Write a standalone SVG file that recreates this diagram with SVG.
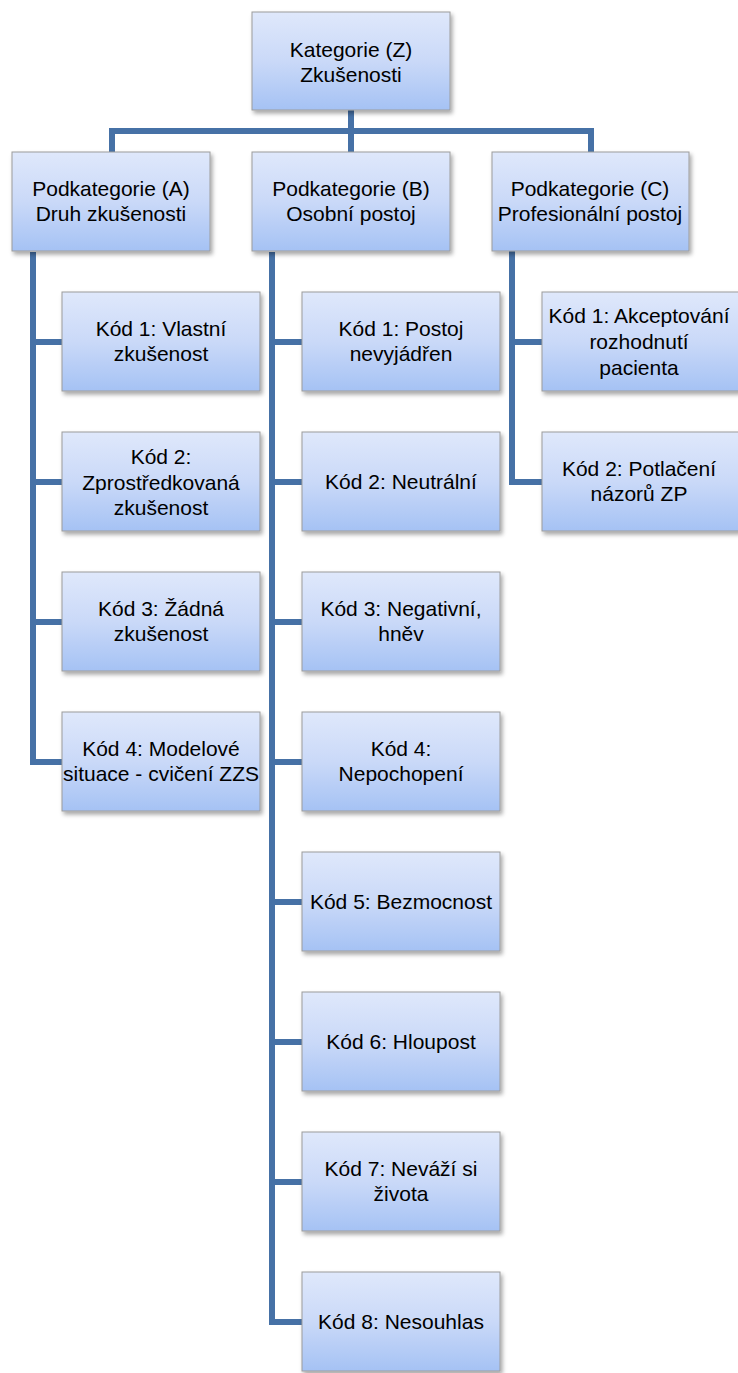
<svg xmlns="http://www.w3.org/2000/svg" width="738" height="1373" viewBox="0 0 738 1373">
<style>
.box{fill:url(#g);stroke:#9c9c9c;stroke-width:1;filter:url(#sh)}
.t{font-family:"Liberation Sans",Arial,sans-serif;font-size:21px;fill:#000;text-anchor:middle}
.c{fill:none;stroke:#4671a6;stroke-width:6;stroke-linejoin:miter}
</style>
<defs>
<linearGradient id="g" x1="0" y1="0" x2="0" y2="1">
<stop offset="0" stop-color="#dfe8fb"/>
<stop offset="0.5" stop-color="#cad9f8"/>
<stop offset="1" stop-color="#a5c2f4"/>
</linearGradient>
<filter id="sh" x="-10%" y="-10%" width="125%" height="130%">
<feDropShadow dx="2" dy="3" stdDeviation="2" flood-color="#000" flood-opacity="0.35"/>
</filter>
</defs>
<g id="connectors">
<path class="c" d="M351,110 V131 M112,152 V131 H591 V152 M351,131 V152"/>
<path class="c" d="M33,252 V762 H62 M33,342 H62 M33,482 H62 M33,622 H62"/>
<path class="c" d="M272,252 V1322 H302 M272,342 H302 M272,482 H302 M272,622 H302 M272,762 H302 M272,902 H302 M272,1042 H302 M272,1182 H302"/>
<path class="c" d="M512,251 V482 H542 M512,342 H542"/>
</g>
<g id="top"><rect class="box" x="252" y="12" width="198" height="98"/>
<text class="t" x="351" y="57">Kategorie (Z)</text><text class="t" x="351" y="82">Zkušenosti</text></g>
<g id="subA"><rect class="box" x="12" y="152" width="198" height="99"/>
<text class="t" x="111" y="196">Podkategorie (A)</text><text class="t" x="111" y="221">Druh zkušenosti</text></g>
<g id="subB"><rect class="box" x="252" y="152" width="198" height="99"/>
<text class="t" x="351" y="196">Podkategorie (B)</text><text class="t" x="351" y="221">Osobní postoj</text></g>
<g id="subC"><rect class="box" x="492" y="152" width="197" height="99"/>
<text class="t" x="590" y="196">Podkategorie (C)</text><text class="t" x="590" y="221">Profesionální postoj</text></g>

<g id="a1"><rect class="box" x="62" y="292" width="198" height="99"/>
<text class="t" x="161" y="336">Kód 1: Vlastní</text><text class="t" x="161" y="361">zkušenost</text></g>
<g id="a2"><rect class="box" x="62" y="432" width="198" height="99"/>
<text class="t" x="161" y="464">Kód 2:</text><text class="t" x="161" y="489.5">Zprostředkovaná</text><text class="t" x="161" y="515">zkušenost</text></g>
<g id="a3"><rect class="box" x="62" y="572" width="198" height="99"/>
<text class="t" x="161" y="616">Kód 3: Žádná</text><text class="t" x="161" y="641">zkušenost</text></g>
<g id="a4"><rect class="box" x="62" y="712" width="198" height="99"/>
<text class="t" x="161" y="756">Kód 4: Modelové</text><text class="t" x="161" y="781">situace - cvičení ZZS</text></g>

<g id="b1"><rect class="box" x="302" y="292" width="198" height="99"/>
<text class="t" x="401" y="336">Kód 1: Postoj</text><text class="t" x="401" y="361">nevyjádřen</text></g>
<g id="b2"><rect class="box" x="302" y="432" width="198" height="99"/>
<text class="t" x="401" y="489">Kód 2: Neutrální</text></g>
<g id="b3"><rect class="box" x="302" y="572" width="198" height="99"/>
<text class="t" x="401" y="616">Kód 3: Negativní,</text><text class="t" x="401" y="641">hněv</text></g>
<g id="b4"><rect class="box" x="302" y="712" width="198" height="99"/>
<text class="t" x="401" y="756">Kód 4:</text><text class="t" x="401" y="781">Nepochopení</text></g>
<g id="b5"><rect class="box" x="302" y="852" width="198" height="99"/>
<text class="t" x="401" y="909">Kód 5: Bezmocnost</text></g>
<g id="b6"><rect class="box" x="302" y="992" width="198" height="99"/>
<text class="t" x="401" y="1049">Kód 6: Hloupost</text></g>
<g id="b7"><rect class="box" x="302" y="1132" width="198" height="99"/>
<text class="t" x="401" y="1176">Kód 7: Neváží si</text><text class="t" x="401" y="1201">života</text></g>
<g id="b8"><rect class="box" x="302" y="1272" width="198" height="99"/>
<text class="t" x="401" y="1329">Kód 8: Nesouhlas</text></g>

<g id="c1"><rect class="box" x="542" y="292" width="198" height="99"/>
<text class="t" x="639" y="323">Kód 1: Akceptování</text><text class="t" x="639" y="349">rozhodnutí</text><text class="t" x="639" y="375">pacienta</text></g>
<g id="c2"><rect class="box" x="542" y="432" width="198" height="99"/>
<text class="t" x="639" y="476">Kód 2: Potlačení</text><text class="t" x="639" y="501">názorů ZP</text></g>
</svg>
